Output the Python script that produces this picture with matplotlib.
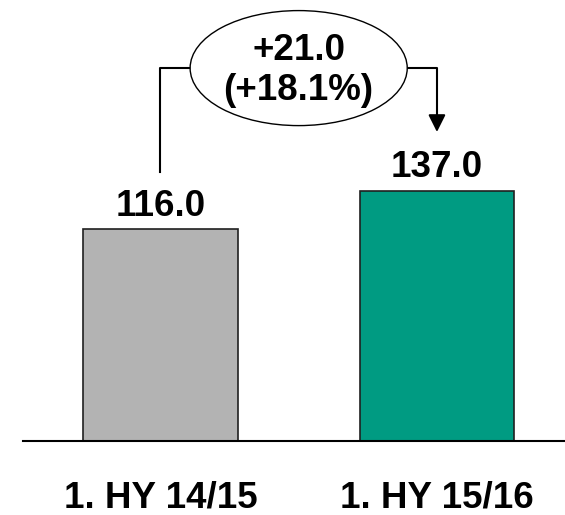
import matplotlib.pyplot as plt
from matplotlib.patches import Ellipse

plt.rcParams['font.family'] = ['Liberation Sans', 'DejaVu Sans']

periodos = ["1. HY 14/15", "1. HY 15/16"]
valores = [116.0, 137.0]
cores = ["#b3b3b3", "#009b82"]
delta = "+21.0"
delta_pct = "(+18.1%)"

fig = plt.figure(figsize=(5.65, 5.15), dpi=100)
ax = fig.add_axes([0, 0, 1, 1])
ax.set_xlim(-0.580, 1.463)
ax.set_ylim(-40.5, 241.6)
ax.axis("off")

x = list(range(len(valores)))
ax.bar(x, valores, width=0.56, color=cores, edgecolor="#202020", linewidth=1.2, zorder=2)
ax.axhline(0, xmin=0.041, xmax=1, color="black", lw=1.5, zorder=3)

for xi, v, lab in zip(x, valores, periodos):
    ax.text(xi, v + 7.5, "%.1f" % v, ha="center", va="baseline",
            fontsize=26.5, fontweight="bold")
    ax.text(xi, -36.5, lab, ha="center", va="baseline",
            fontsize=26.5, fontweight="bold")

# ligacao entre as barras com a variacao
topo = 204.3
ax.plot([x[0], x[0], 0.11], [valores[0] + 31.6, topo, topo], color="black", lw=1.5)
ax.plot([0.89, x[1], x[1]], [topo, topo, valores[1] + 40], color="black", lw=1.5)
ax.annotate("", xy=(x[1], valores[1] + 32.3), xytext=(x[1], valores[1] + 42),
            arrowprops=dict(arrowstyle="-|>", color="black", lw=1.5,
                            mutation_scale=26, shrinkA=0, shrinkB=0))

ax.add_patch(Ellipse((0.5, topo), 0.785, 63, facecolor="white",
                     edgecolor="black", lw=1.0, zorder=4))
ax.text(0.5, topo + 4.7, delta, ha="center", va="baseline",
        fontsize=26.5, fontweight="bold", zorder=5)
ax.text(0.5, topo - 17.3, delta_pct, ha="center", va="baseline",
        fontsize=26.5, fontweight="bold", zorder=5)

plt.savefig("out.png", dpi=100)
